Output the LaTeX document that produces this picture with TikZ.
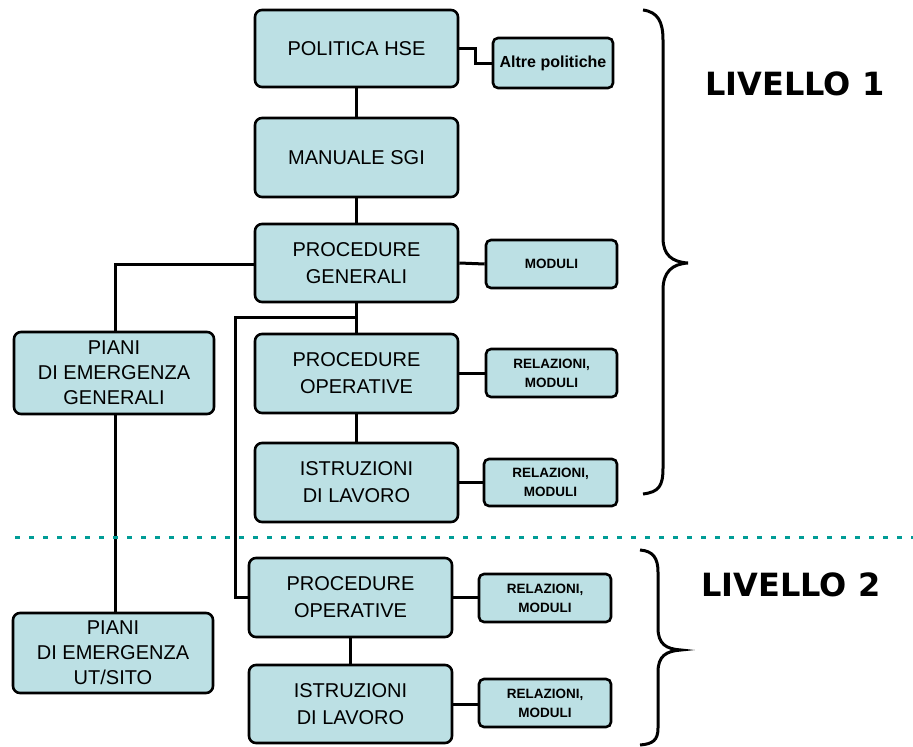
\documentclass[tikz,border=0pt]{standalone}
\usepackage{fontspec}
\setmainfont{Liberation Sans}
\newfontfamily\levelfont{DejaVu Sans}
\usetikzlibrary{positioning}
\definecolor{boxfill}{HTML}{BCE0E4}
\definecolor{sepcol}{HTML}{009C96}
\tikzset{
  docbox/.style={draw=black, line width=2.6pt, fill=boxfill, rounded corners=7pt,
    align=center, inner sep=0pt, font=\fontsize{20}{27}\selectfont},
  smallbox/.style={draw=black, line width=2.6pt, fill=boxfill, rounded corners=5pt,
    align=center, inner sep=0pt, font=\bfseries\fontsize{13.5}{19}\selectfont},
  link/.style={draw=black, line width=3pt},
  brace/.style={draw=black, line width=3pt},
  leveltext/.style={font=\levelfont\bfseries\fontsize{32}{36}\selectfont}
}
\begin{document}
\begin{tikzpicture}[x=1pt, y=-1pt]
\useasboundingbox (0,0) rectangle (913,747);

% main column
\node[docbox, minimum width=203pt, minimum height=77pt] (pol) at (356.5,48.5) {POLITICA HSE};
\node[docbox, minimum width=203pt, minimum height=79pt] (man) at (356.5,157.5) {MANUALE SGI};
\node[docbox, minimum width=203pt, minimum height=78pt] (pg) at (356.5,263) {PROCEDURE\\GENERALI};
\node[docbox, minimum width=203pt, minimum height=79pt] (po1) at (356.5,373.5) {PROCEDURE\\OPERATIVE};
\node[docbox, minimum width=203pt, minimum height=79pt] (il1) at (356.5,482.5) {ISTRUZIONI\\DI LAVORO};
\node[docbox, minimum width=203pt, minimum height=79pt] (po2) at (350.5,597.5) {PROCEDURE\\OPERATIVE};
\node[docbox, minimum width=203pt, minimum height=78pt] (il2) at (350.5,704) {ISTRUZIONI\\DI LAVORO};

% emergency plans
\node[docbox, minimum width=200pt, minimum height=82pt, font=\fontsize{20}{25}\selectfont] (peg) at (114,373) {PIANI\\DI EMERGENZA\\GENERALI};
\node[docbox, minimum width=200pt, minimum height=80pt, font=\fontsize{20}{25}\selectfont] (pes) at (113,653) {PIANI\\DI EMERGENZA\\UT/SITO};

% side documents
\node[smallbox, minimum width=120pt, minimum height=50pt, font=\bfseries\fontsize{16}{18}\selectfont] (alt) at (553,63) {Altre politiche};
\node[smallbox, minimum width=131pt, minimum height=48pt] (mod) at (551.5,264) {MODULI};
\node[smallbox, minimum width=131pt, minimum height=48pt] (rm1) at (551.5,373) {RELAZIONI,\\MODULI};
\node[smallbox, minimum width=133pt, minimum height=47pt] (rm2) at (550.5,482.5) {RELAZIONI,\\MODULI};
\node[smallbox, minimum width=132pt, minimum height=48pt] (rm3) at (545,598) {RELAZIONI,\\MODULI};
\node[smallbox, minimum width=132pt, minimum height=48pt] (rm4) at (545,703) {RELAZIONI,\\MODULI};

% connectors
\coordinate (elbowA) at (475,48);
\coordinate (elbowB) at (475,63);
\draw[link] (pol.east |- elbowA) -- (elbowA) -- (elbowB) -- (alt.west |- elbowB);
\draw[link] (pol.south) -- (man.north);
\draw[link] (man.south) -- (pg.north);
\draw[link] (pg.south) -- (po1.north);
\draw[link] (po1.south) -- (il1.north);
\draw[link] (po2.south) -- (il2.north);
\draw[link] (pg.east) -- (mod.west);
\draw[link] (po1.east) -- (rm1.west |- po1.east);
\draw[link] (il1.east) -- (rm2.west |- il1.east);
\draw[link] (po2.east) -- (rm3.west |- po2.east);
\draw[link] (il2.east) -- (rm4.west |- il2.east);

\coordinate (gl) at (115,264);
\draw[link] (pg.west |- gl) -- (gl) -- (gl |- peg.north);
\draw[link] (peg.south -| gl) -- (gl |- pes.north);

\coordinate (br) at (357,317);
\coordinate (bl) at (235,317);
\draw[link] (br) -- (bl) -- (bl |- po2.west) -- (po2.west);

% separator between the two levels
\draw[sepcol, line width=3pt, dash pattern=on 5pt off 9pt] (15,537) -- (913,537);

% level braces
\draw[brace] (643,10) .. controls (658,12) and (663,22) .. (663,40) -- (663,238)
  .. controls (663,255) and (672,262) .. (688,263)
  .. controls (672,264) and (663,272) .. (663,290) -- (663,468)
  .. controls (663,486) and (659,492) .. (643,494);
\draw[brace] (640,550) .. controls (653,551) and (658,558) .. (658,572) -- (658,628)
  .. controls (658,644) and (666,649) .. (681,650)
  .. controls (666,651) and (658,656) .. (658,672) -- (658,728)
  .. controls (658,740) and (653,744) .. (640,745);

\node[leveltext] (l1) at (795,84) {LIVELLO 1};
\node[leveltext] (l2) at (791,585) {LIVELLO 2};
\end{tikzpicture}
\end{document}
